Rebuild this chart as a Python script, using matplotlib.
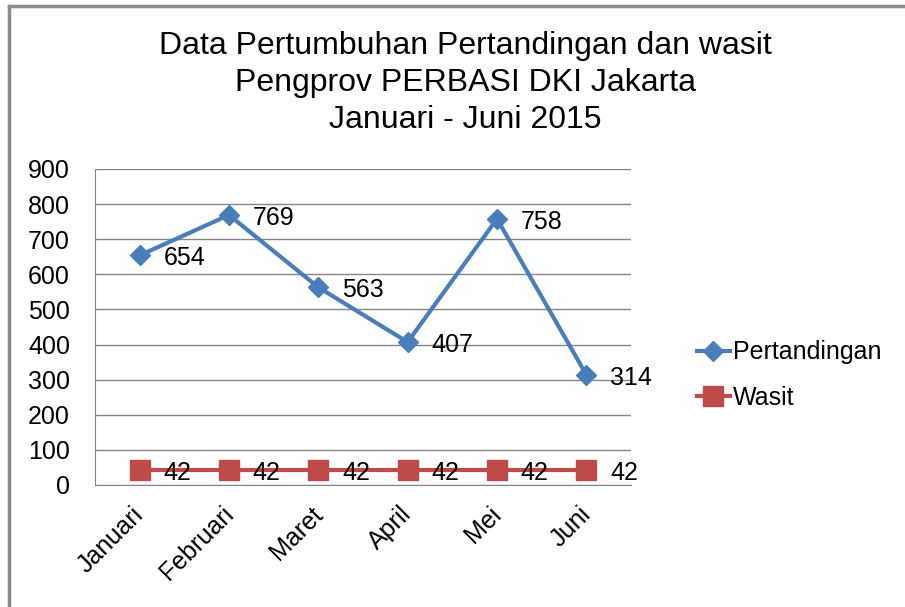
import numpy as np
from matplotlib import pyplot as plt
from matplotlib.transforms import ScaledTranslation

plt.rcParams['font.family'] = ['Liberation Sans', 'DejaVu Sans']

bulan = ['Januari', 'Februari', 'Maret', 'April', 'Mei', 'Juni']
pertandingan = [654, 769, 563, 407, 758, 314]
wasit = [42, 42, 42, 42, 42, 42]
y_ticks = list(range(0, 1000, 100))

W, H = 905, 607
fig = plt.figure(figsize=(W / 100, H / 100), dpi=100)
fig.patch.set_facecolor('white')

# bingkai abu-abu kiri dan atas (potongan chart Excel)
fig.add_artist(plt.Line2D([9 / W, 9 / W], [0, 1 - 6 / H], transform=fig.transFigure,
                          color='#8c8c8c', lw=2.5))
fig.add_artist(plt.Line2D([9 / W, 1], [1 - 6 / H, 1 - 6 / H], transform=fig.transFigure,
                          color='#8c8c8c', lw=2.5))

# area plot: x 95..631, y 169..485 (pixel)
ax = fig.add_axes([95 / W, 1 - 485 / H, (631 - 95) / W, (485 - 169) / H])

x = np.arange(len(bulan))
biru = '#4A7EBB'
merah = '#BE4B48'

ax.plot(x, pertandingan, color=biru, lw=3, marker='D', markersize=10,
        markerfacecolor=biru, markeredgecolor=biru, label='Pertandingan', zorder=3)
ax.plot(x, wasit, color=merah, lw=3, marker='s', markersize=15,
        markerfacecolor=merah, markeredgecolor=merah, label='Wasit', zorder=3)

for xi, v in zip(x, pertandingan):
    ax.annotate(str(v), (xi, v), xytext=(17, -2), textcoords='offset points',
                ha='left', va='center', fontsize=18, color='black', zorder=4)
for xi, v in zip(x, wasit):
    ax.annotate(str(v), (xi, v), xytext=(17, -2), textcoords='offset points',
                ha='left', va='center', fontsize=18, color='black', zorder=4)

ax.set_xlim(-0.5, len(bulan) - 0.5)
ax.set_ylim(0, 900)
ax.set_yticks(y_ticks)
ax.set_yticklabels([str(t) for t in y_ticks], fontsize=18)
ax.set_xticks(x)
ax.set_xticklabels([])
# label bulan miring, digeser sedikit ke kiri seperti di Excel
geser = ScaledTranslation(-8 / 100, -17 / 100, fig.dpi_scale_trans)
for xi, nama in zip(x, bulan):
    ax.text(xi, 0, nama, transform=ax.get_xaxis_transform() + geser,
            ha='right', va='top', rotation=45, rotation_mode='anchor', fontsize=18)
ax.grid(axis='y', color='#868686', lw=1)
ax.set_axisbelow(True)
for s in ['top', 'right']:
    ax.spines[s].set_visible(False)
for s in ['left', 'bottom']:
    ax.spines[s].set_color('#868686')
ax.tick_params(axis='y', length=0, pad=18)
ax.tick_params(axis='x', length=0)

fig.text(465 / W, 1 - 83 / H,
         'Data Pertumbuhan Pertandingan dan wasit\nPengprov PERBASI DKI Jakarta\nJanuari - Juni 2015',
         ha='center', va='center', fontsize=23, linespacing=1.3)

fig.legend(loc='center left', bbox_to_anchor=(697 / W, 1 - 375 / H), frameon=False,
           fontsize=18, handlelength=1.3, handletextpad=0.15, labelspacing=0.85,
           borderaxespad=0, borderpad=0)

fig.savefig('out.png', dpi=100)
